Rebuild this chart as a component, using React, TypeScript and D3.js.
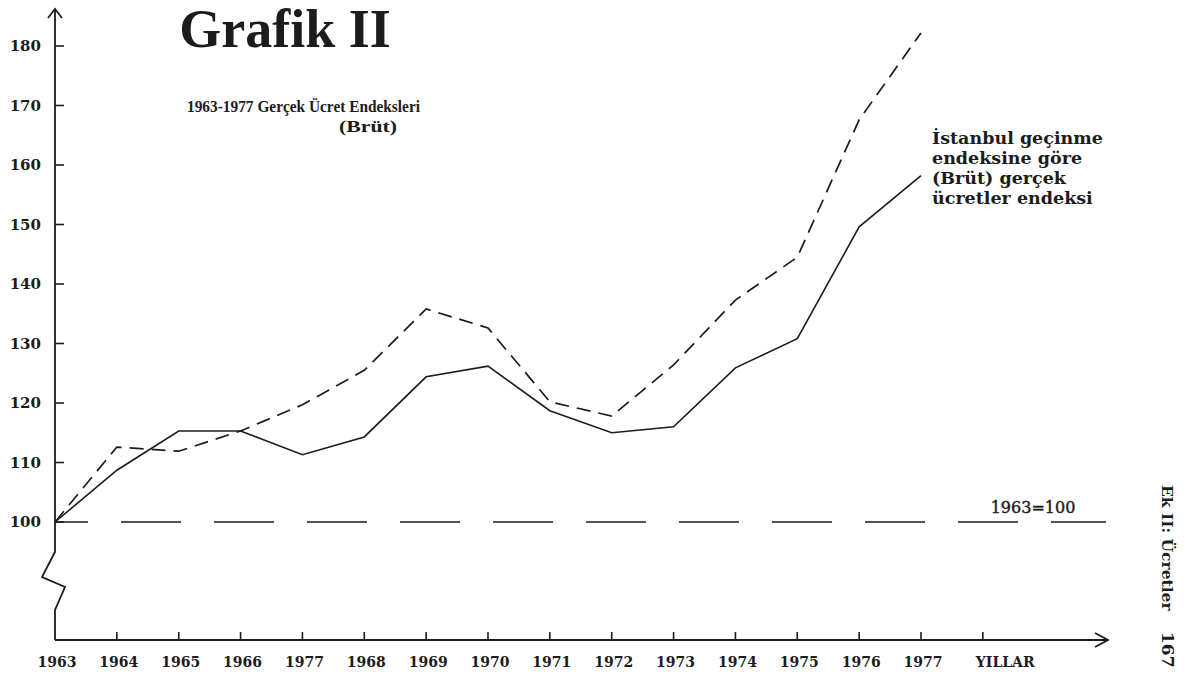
import React from "react";
import * as d3 from "d3";

const years = [1963, 1964, 1965, 1966, 1967, 1968, 1969, 1970, 1971, 1972, 1973, 1974, 1975, 1976, 1977];
const istanbulIndex = [100, 108.7, 115.3, 115.3, 111.3, 114.3, 124.4, 126.2, 118.7, 115.0, 116.0, 125.9, 130.8, 149.6, 158.2];
const secondIndex = [100, 112.6, 111.9, 115.3, 119.7, 125.5, 135.8, 132.6, 120.2, 117.8, 126.4, 137.3, 144.5, 167.6, 182.2];
const xTickYears = [1963, 1964, 1965, 1966, 1967, 1968, 1969, 1970, 1971, 1972, 1973, 1974, 1975, 1976, 1977, 1978];
const xTickLabels = ["1963", "1964", "1965", "1966", "1977", "1968", "1969", "1970", "1971", "1972", "1973", "1974", "1975", "1976", "1977", "YILLAR"];
const yTicks = [100, 110, 120, 130, 140, 150, 160, 170, 180];
const legendLines = ["İstanbul geçinme", "endeksine göre", "(Brüt) gerçek", "ücretler endeksi"];
const baseValue = 100;

const W = 1186;
const H = 682;
const INK = "#1c1c1c";
const BOLD_SERIF = "'DejaVu Serif', serif";
const TIMES = "'Liberation Serif', 'Times New Roman', serif";

export default function App() {
  const x = d3.scaleLinear().domain([1963, 1977]).range([55, 921]);
  const y = d3.scaleLinear().domain([100, 180]).range([522, 46]);
  const axisX = 55;
  const axisY = 640;

  const line = d3
    .line<[number, number]>()
    .x((d) => x(d[0]))
    .y((d) => y(d[1]));

  const solidPath = line(years.map((yr, i) => [yr, istanbulIndex[i]]));
  const dashedPath = line(years.map((yr, i) => [yr, secondIndex[i]]));

  const yBase = y(baseValue);

  return (
    <svg
      width={W}
      height={H}
      viewBox={`0 0 ${W} ${H}`}
      style={{ position: "absolute", left: 0, top: 0, background: "#fff" }}
    >
      <rect x={0} y={0} width={W} height={H} fill="#fff" />

      {/* Title */}
      <text x={285} y={47} textAnchor="middle" fontFamily={TIMES} fontWeight="bold" fontSize={54} fill={INK}>
        Grafik II
      </text>
      <text
        x={187}
        y={112}
        textAnchor="start"
        fontFamily={TIMES}
        fontWeight="bold"
        fontSize={16.5}
        textLength={233}
        lengthAdjust="spacingAndGlyphs"
        fill={INK}
      >
        1963-1977 Gerçek Ücret Endeksleri
      </text>
      <text
        x={339}
        y={132}
        textAnchor="start"
        fontFamily={TIMES}
        fontWeight="bold"
        fontSize={16.5}
        textLength={58}
        lengthAdjust="spacingAndGlyphs"
        fill={INK}
      >
        (Brüt)
      </text>

      {/* Y axis with break */}
      <path
        d={`M${axisX},10 L${axisX},552 L42,577 L65,587 L${axisX},610 L${axisX},${axisY}`}
        fill="none"
        stroke={INK}
        strokeWidth={1.8}
      />
      <path d={`M${axisX - 7},18 L${axisX},9 L${axisX + 7},18`} fill="none" stroke={INK} strokeWidth={1.8} />

      {/* X axis */}
      <line x1={axisX} y1={axisY} x2={1107} y2={axisY} stroke={INK} strokeWidth={1.8} />
      <path d={`M1095,633 L1108,${axisY} L1095,647`} fill="none" stroke={INK} strokeWidth={1.8} />

      {/* Y ticks */}
      {yTicks.map((t) => (
        <g key={t}>
          <line x1={axisX} x2={axisX + 9} y1={y(t)} y2={y(t)} stroke={INK} strokeWidth={1.6} />
          <text
            x={41}
            y={y(t)}
            dy="0.36em"
            textAnchor="end"
            fontFamily={BOLD_SERIF}
            fontWeight="bold"
            fontSize={15}
            fill={INK}
          >
            {t}
          </text>
        </g>
      ))}

      {/* X ticks */}
      {xTickYears.map((yr, i) => {
        const px = x(yr);
        const isLast = i === xTickYears.length - 1;
        return (
          <g key={i}>
            {i > 0 && <line x1={px} x2={px} y1={axisY} y2={axisY - 8} stroke={INK} strokeWidth={1.6} />}
            <text
              x={isLast ? px - 7 : px + 2}
              y={667}
              textAnchor={isLast ? "start" : "middle"}
              fontFamily={BOLD_SERIF}
              fontWeight="bold"
              fontSize={14}
              fill={INK}
            >
              {xTickLabels[i]}
            </text>
          </g>
        );
      })}

      {/* Base line 1963=100 */}
      <line
        x1={axisX}
        x2={1106}
        y1={yBase}
        y2={yBase}
        stroke={INK}
        strokeWidth={1.6}
        strokeDasharray="60,33"
        strokeDashoffset={27}
      />
      <text
        x={1033}
        y={513}
        textAnchor="middle"
        fontFamily={BOLD_SERIF}
        fontSize={16}
        fill={INK}
        stroke={INK}
        strokeWidth={0.4}
      >
        1963=100
      </text>

      {/* Data lines */}
      <path d={dashedPath ?? ""} fill="none" stroke={INK} strokeWidth={1.7} strokeDasharray="14,8" />
      <path d={solidPath ?? ""} fill="none" stroke={INK} strokeWidth={1.6} />

      {/* Legend label */}
      {legendLines.map((l, i) => (
        <text
          key={i}
          x={932}
          y={144 + i * 20}
          fontFamily={BOLD_SERIF}
          fontWeight="bold"
          fontSize={17.5}
          fill={INK}
        >
          {l}
        </text>
      ))}

      {/* Page margin text */}
      <text
        transform="translate(1162,485) rotate(90)"
        fontFamily={BOLD_SERIF}
        fontWeight="bold"
        fontSize={15.5}
        fill={INK}
      >
        Ek II: Ücretler
      </text>
      <text
        transform="translate(1162,632) rotate(90)"
        fontFamily={BOLD_SERIF}
        fontWeight="bold"
        fontSize={17}
        fill={INK}
      >
        167
      </text>
    </svg>
  );
}
